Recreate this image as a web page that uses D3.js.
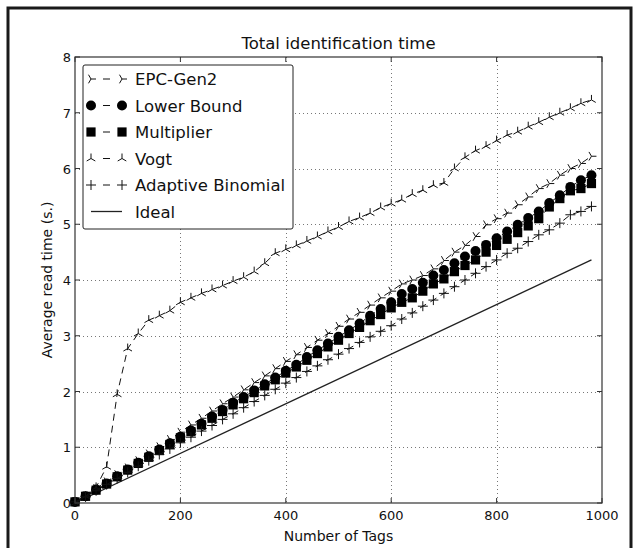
<!DOCTYPE html>
<html>
<head>
    <meta charset="utf-8">
    <title>Total identification time</title>
    <style>
        body {
            margin: 0;
            background: #fff;
            font-family: "DejaVu Sans", sans-serif;
        }

        .frame {
            fill: none;
            stroke: #1a1a1a;
            stroke-width: 3;
        }

        .grid-line {
            stroke: #777;
            stroke-width: 1;
            stroke-dasharray: 1, 3;
            shape-rendering: crispEdges;
        }

        .axis-box {
            fill: none;
            stroke: #333;
            stroke-width: 1.2;
        }

        .tick-mark {
            stroke: #333;
            stroke-width: 1;
        }

        .tick-label {
            font-size: 13px;
            fill: #111;
        }

        .axis-title {
            font-size: 14px;
            fill: #111;
        }

        .title {
            font-size: 16.5px;
            fill: #111;
        }

        .series-line {
            fill: none;
            stroke: #111;
            stroke-width: 1;
            stroke-dasharray: 7, 5;
        }

        .ideal-line {
            fill: none;
            stroke: #222;
            stroke-width: 1.3;
        }

        .legend-box {
            fill: #fff;
            stroke: #222;
            stroke-width: 1;
        }

        .legend-text {
            font-size: 16.5px;
            fill: #111;
        }
    </style>
    <script src="https://d3js.org/d3.v7.min.js"></script>
</head>

<body>

<script type="text/javascript">
    // Number of tags (x values)
    var tags = [0, 20, 40, 60, 80, 100, 120, 140, 160, 180,
        200, 220, 240, 260, 280, 300, 320, 340, 360, 380,
        400, 420, 440, 460, 480, 500, 520, 540, 560, 580,
        600, 620, 640, 660, 680, 700, 720, 740, 760, 780,
        800, 820, 840, 860, 880, 900, 920, 940, 960, 980];

    var epcGen2 = [0.02, 0.13, 0.26, 0.38, 0.51, 0.63, 0.76, 0.88, 1.01, 1.14,
        1.27, 1.40, 1.52, 1.65, 1.78, 1.90, 2.03, 2.16, 2.28, 2.41,
        2.54, 2.66, 2.79, 2.92, 3.04, 3.17, 3.30, 3.42, 3.55, 3.68,
        3.80, 3.93, 4.00, 4.08, 4.20, 4.35, 4.50, 4.62, 4.78, 4.99,
        5.10, 5.20, 5.35, 5.49, 5.64, 5.73, 5.88, 6.00, 6.09, 6.22];

    var lowerBound = [0.02, 0.12, 0.24, 0.35, 0.48, 0.60, 0.72, 0.84, 0.96, 1.07,
        1.19, 1.30, 1.42, 1.55, 1.67, 1.80, 1.90, 2.02, 2.13, 2.25,
        2.37, 2.48, 2.62, 2.74, 2.86, 2.98, 3.10, 3.22, 3.36, 3.48,
        3.60, 3.75, 3.84, 3.95, 4.08, 4.18, 4.30, 4.42, 4.52, 4.63,
        4.75, 4.87, 4.99, 5.11, 5.23, 5.38, 5.52, 5.67, 5.79, 5.88];

    var multiplier = [0.02, 0.12, 0.23, 0.34, 0.47, 0.59, 0.71, 0.82, 0.94, 1.05,
        1.17, 1.28, 1.40, 1.52, 1.64, 1.76, 1.87, 1.98, 2.10, 2.21,
        2.33, 2.44, 2.56, 2.68, 2.80, 2.92, 3.04, 3.15, 3.27, 3.38,
        3.50, 3.60, 3.68, 3.80, 3.93, 4.02, 4.15, 4.26, 4.36, 4.50,
        4.62, 4.73, 4.85, 4.97, 5.10, 5.31, 5.46, 5.60, 5.64, 5.73];

    var vogt = [0.00, 0.12, 0.28, 0.65, 1.95, 2.77, 3.04, 3.28, 3.36, 3.45,
        3.60, 3.68, 3.76, 3.83, 3.90, 3.98, 4.05, 4.15, 4.30, 4.48,
        4.55, 4.62, 4.70, 4.78, 4.87, 4.95, 5.05, 5.12, 5.20, 5.30,
        5.37, 5.44, 5.54, 5.61, 5.70, 5.74, 6.00, 6.20, 6.32, 6.40,
        6.50, 6.60, 6.66, 6.75, 6.83, 6.92, 7.00, 7.08, 7.17, 7.23];

    var adaptiveBinomial = [0.02, 0.11, 0.22, 0.33, 0.44, 0.55, 0.66, 0.76, 0.87, 0.97,
        1.08, 1.18, 1.29, 1.39, 1.50, 1.60, 1.71, 1.82, 1.93, 2.04,
        2.15, 2.25, 2.36, 2.46, 2.57, 2.67, 2.77, 2.88, 2.98, 3.08,
        3.18, 3.30, 3.41, 3.53, 3.64, 3.76, 3.88, 4.00, 4.12, 4.24,
        4.36, 4.48, 4.57, 4.69, 4.81, 4.90, 5.02, 5.17, 5.23, 5.32];

    var idealTags = [0, 980];
    var idealValues = [0, 4.36];

    var xTicks = [0, 200, 400, 600, 800, 1000];
    var yTicks = [0, 1, 2, 3, 4, 5, 6, 7, 8];

    var seriesNames = ["EPC-Gen2", "Lower Bound", "Multiplier", "Vogt", "Adaptive Binomial", "Ideal"];

    var width = 637, height = 548,
        margins = {top: 57, left: 75, right: 35, bottom: 45};

    var plotW = width - margins.left - margins.right,
        plotH = height - margins.top - margins.bottom;

    var x = d3.scaleLinear().domain([0, 1000]).range([0, plotW]);
    var y = d3.scaleLinear().domain([0, 8]).range([plotH, 0]);

    // marker shapes drawn around (0,0)
    var markerPaths = {
        triRight: "M0,0L5,0M0,0L-2.5,-4.3M0,0L-2.5,4.3",
        triUp: "M0,0L0,-5M0,0L-4.3,2.5M0,0L4.3,2.5",
        plus: "M-5,0L5,0M0,-5L0,5"
    };

    function drawMarker(g, kind) {
        if (kind === "circle") {
            g.append("circle").attr("r", 5).attr("fill", "#000");
        } else if (kind === "square") {
            g.append("rect").attr("x", -4.6).attr("y", -4.6)
                .attr("width", 9.2).attr("height", 9.2).attr("fill", "#000");
        } else {
            g.append("path").attr("d", markerPaths[kind])
                .attr("fill", "none").attr("stroke", "#111").attr("stroke-width", 1);
        }
    }

    var series = [
        {name: seriesNames[0], values: epcGen2, marker: "triRight"},
        {name: seriesNames[1], values: lowerBound, marker: "circle"},
        {name: seriesNames[2], values: multiplier, marker: "square"},
        {name: seriesNames[3], values: vogt, marker: "triUp"},
        {name: seriesNames[4], values: adaptiveBinomial, marker: "plus"}
    ];

    var svg = d3.select("body").append("svg")
        .attr("width", width)
        .attr("height", height);

    svg.append("rect").attr("class", "frame")
        .attr("x", 8).attr("y", 8)
        .attr("width", 623).attr("height", 560);

    var plot = svg.append("g")
        .attr("transform", "translate(" + margins.left + "," + margins.top + ")");

    // grid
    plot.selectAll("line.gx").data(xTicks.slice(1, -1)).enter()
        .append("line").attr("class", "grid-line")
        .attr("x1", function (d) { return Math.round(x(d)) + 0.5; })
        .attr("x2", function (d) { return Math.round(x(d)) + 0.5; })
        .attr("y1", 0).attr("y2", plotH);

    plot.selectAll("line.gy").data(yTicks.slice(1, -1)).enter()
        .append("line").attr("class", "grid-line")
        .attr("y1", function (d) { return Math.round(y(d)) + 0.5; })
        .attr("y2", function (d) { return Math.round(y(d)) + 0.5; })
        .attr("x1", 0).attr("x2", plotW);

    // ideal line
    var line = d3.line()
        .x(function (d) { return x(d[0]); })
        .y(function (d) { return y(d[1]); });

    plot.append("path").attr("class", "ideal-line")
        .attr("d", line(d3.zip(idealTags, idealValues)));

    // dashed series with markers
    series.forEach(function (s) {
        var pts = d3.zip(tags, s.values);
        plot.append("path").attr("class", "series-line").attr("d", line(pts));
        var m = plot.append("g").selectAll("g").data(pts).enter()
            .append("g")
            .attr("transform", function (d) {
                return "translate(" + x(d[0]) + "," + y(d[1]) + ")";
            });
        m.each(function () { drawMarker(d3.select(this), s.marker); });
    });

    // axes box and inward ticks
    plot.append("rect").attr("class", "axis-box")
        .attr("width", plotW).attr("height", plotH);

    xTicks.forEach(function (t) {
        plot.append("line").attr("class", "tick-mark")
            .attr("x1", x(t)).attr("x2", x(t)).attr("y1", plotH).attr("y2", plotH - 5);
        plot.append("line").attr("class", "tick-mark")
            .attr("x1", x(t)).attr("x2", x(t)).attr("y1", 0).attr("y2", 5);
        plot.append("text").attr("class", "tick-label")
            .attr("x", x(t)).attr("y", plotH + 17)
            .attr("text-anchor", "middle").text(t);
    });

    yTicks.forEach(function (t) {
        plot.append("line").attr("class", "tick-mark")
            .attr("x1", 0).attr("x2", 5).attr("y1", y(t)).attr("y2", y(t));
        plot.append("line").attr("class", "tick-mark")
            .attr("x1", plotW).attr("x2", plotW - 5).attr("y1", y(t)).attr("y2", y(t));
        plot.append("text").attr("class", "tick-label")
            .attr("x", -4).attr("y", y(t) + 5)
            .attr("text-anchor", "end").text(t);
    });

    // titles
    svg.append("text").attr("class", "title")
        .attr("x", margins.left + plotW / 2).attr("y", 49)
        .attr("text-anchor", "middle").text("Total identification time");

    svg.append("text").attr("class", "axis-title")
        .attr("x", margins.left + plotW / 2).attr("y", 541)
        .attr("text-anchor", "middle").text("Number of Tags");

    svg.append("text").attr("class", "axis-title")
        .attr("transform", "translate(52," + (margins.top + plotH / 2) + ") rotate(-90)")
        .attr("text-anchor", "middle").text("Average read time (s.)");

    // legend
    var legend = plot.append("g").attr("transform", "translate(8,8)");
    legend.append("rect").attr("class", "legend-box")
        .attr("width", 210).attr("height", 164).attr("rx", 2);

    var legendItems = series.concat([{name: seriesNames[5], marker: null}]);
    legendItems.forEach(function (s, i) {
        var ly = 14 + i * 26.5;
        var g = legend.append("g").attr("transform", "translate(0," + ly + ")");
        if (s.marker) {
            g.append("line").attr("class", "series-line")
                .attr("x1", 8).attr("x2", 39).attr("y1", 0).attr("y2", 0)
                .style("stroke-dasharray", "0,12,7,12");
            drawMarker(g.append("g").attr("transform", "translate(8,0)"), s.marker);
            drawMarker(g.append("g").attr("transform", "translate(39,0)"), s.marker);
        } else {
            g.append("line").attr("class", "ideal-line")
                .attr("x1", 8).attr("x2", 39).attr("y1", 0).attr("y2", 0);
        }
        g.append("text").attr("class", "legend-text")
            .attr("x", 52).attr("y", 6).text(s.name);
    });
</script>

</body>

</html>
